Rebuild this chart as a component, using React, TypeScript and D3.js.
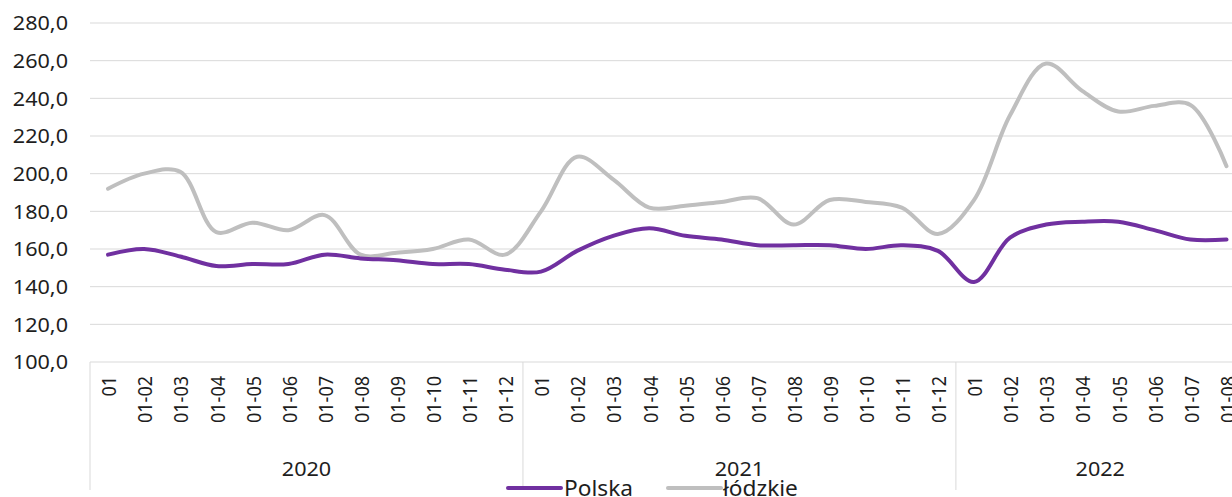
import React from "react";
import * as d3 from "d3";

const years = ["2020", "2021", "2022"];
const monthsPerYear = [12, 12, 8];
const monthLabels = ["01", "01-02", "01-03", "01-04", "01-05", "01-06", "01-07", "01-08", "01-09", "01-10", "01-11", "01-12"];

const polska = [
  157, 160, 156, 151, 152, 152, 157, 155, 154, 152, 152, 149,
  148, 159, 167, 171, 167, 165, 162, 162, 162, 160, 162, 159,
  142.5, 166, 173, 174.5, 174.5, 170, 165, 165,
];
const lodzkie = [
  192, 200, 201, 169, 174, 170, 178, 157, 158, 160, 165, 157,
  180, 209, 197, 182, 183, 185, 187, 173, 186, 185, 182, 168,
  186, 231, 258.5, 244, 233, 236, 236.5, 204,
];
const yTicks = [100, 120, 140, 160, 180, 200, 220, 240, 260, 280];

const W = 1232;
const H = 497;
const left = 90;
const bandW = 36.08;
const top = 23;
const bottom = 362;
const SX = 1.08;

export default function App() {
  const cats: { key: string; label: string; year: number }[] = [];
  monthsPerYear.forEach((n, yi) => {
    for (let i = 0; i < n; i++) cats.push({ key: `${yi}-${i}`, label: monthLabels[i], year: yi });
  });
  const x = d3
    .scaleBand<string>()
    .domain(cats.map((c) => c.key))
    .range([left, left + bandW * cats.length]);
  const y = d3.scaleLinear().domain([100, 280]).range([bottom, top]);
  const cx = (i: number) => (x(cats[i].key) as number) + x.bandwidth() / 2;
  const line = d3
    .line<number>()
    .x((_, i) => cx(i))
    .y((d) => y(d))
    .curve(d3.curveCatmullRom.alpha(0.5));

  const fmt = (v: number) => v.toFixed(1).replace(".", ",");
  const font = "'Noto Sans', 'Open Sans', sans-serif";
  const textColor = "#1e1e1e";

  const bounds: number[] = [];
  let acc = 0;
  monthsPerYear.forEach((n) => {
    bounds.push(acc);
    acc += n;
  });

  return (
    <svg width={W} height={H} style={{ position: "absolute", left: 0, top: 0 }} fontFamily={font}>
      <rect width={W} height={H} fill="#fff" />
      {yTicks.map((t) => (
        <g key={t}>
          <line x1={left} x2={W} y1={y(t)} y2={y(t)} stroke="#d9d9d9" strokeWidth={1} />
          <text
            transform={`translate(68,${y(t)}) scale(${SX},1)`}
            dy="0.36em"
            textAnchor="end"
            fontSize={20}
            fill={textColor}
          >
            {fmt(t)}
          </text>
        </g>
      ))}
      {bounds.map((b, i) => (
        <line
          key={i}
          x1={x(cats[b].key) as number}
          x2={x(cats[b].key) as number}
          y1={bottom}
          y2={490}
          stroke="#d9d9d9"
          strokeWidth={1}
        />
      ))}
      {cats.map((c, i) => (
        <text
          key={c.key}
          transform={`translate(${cx(i) + 1},${376}) rotate(-90) scale(1,${SX + 0.04})`}
          textAnchor="end"
          dy="0.36em"
          fontSize={18}
          fill={textColor}
        >
          {c.label}
        </text>
      ))}
      {years.map((yr, i) => {
        const start = x(cats[bounds[i]].key) as number;
        const end = start + monthsPerYear[i] * bandW;
        return (
          <text
            key={yr}
            transform={`translate(${(start + end) / 2},476) scale(${SX},1)`}
            textAnchor="middle"
            fontSize={20}
            fill={textColor}
          >
            {yr}
          </text>
        );
      })}
      <path d={line(lodzkie) || ""} fill="none" stroke="#bfbfbf" strokeWidth={4} strokeLinecap="round" />
      <path d={line(polska) || ""} fill="none" stroke="#7030a0" strokeWidth={4} strokeLinecap="round" />
      <g>
        <line x1={508} x2={561} y1={488} y2={488} stroke="#7030a0" strokeWidth={4} strokeLinecap="round" />
        <text transform={`translate(564,488) scale(${SX},1)`} dy="0.36em" fontSize={21} fill={textColor}>Polska</text>
        <line x1={668} x2={721} y1={488} y2={488} stroke="#bfbfbf" strokeWidth={4} strokeLinecap="round" />
        <text transform={`translate(723,488) scale(${SX},1)`} dy="0.36em" fontSize={21} fill={textColor}>łódzkie</text>
      </g>
    </svg>
  );
}
